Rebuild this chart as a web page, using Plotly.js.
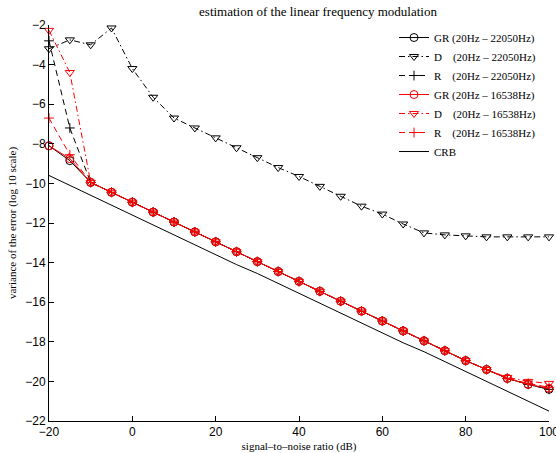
<!DOCTYPE html>
<html>
<head>
<meta charset="utf-8">
<script src="https://cdn.plot.ly/plotly-3.0.1.min.js"></script>
<style>html,body{margin:0;padding:0;background:#fff}#chart{width:556px;height:453px}</style>
</head>
<body>
<div id="chart"></div>
<script>
// signal-to-noise ratio (dB)
const snr = [-20,-15,-10,-5,0,5,10,15,20,25,30,35,40,45,50,55,60,65,70,75,80,85,90,95,100];

// 20Hz - 22050Hz
const grWide = [-8.1,-8.85,-9.95,-10.45,-10.95,-11.45,-11.95,-12.45,-12.95,-13.45,-13.95,-14.45,-14.95,-15.45,-15.95,-16.45,-16.95,-17.45,-17.95,-18.45,-18.95,-19.4,-19.85,-20.15,-20.4];
const dWide = [-3.2,-2.75,-3.0,-2.15,-4.2,-5.65,-6.7,-7.2,-7.7,-8.2,-8.7,-9.2,-9.65,-10.15,-10.65,-11.15,-11.55,-12.05,-12.5,-12.6,-12.65,-12.7,-12.7,-12.7,-12.7];
const rWide = [-2.8,-7.2,-9.95,-10.45,-10.95,-11.45,-11.95,-12.45,-12.95,-13.45,-13.95,-14.45,-14.95,-15.45,-15.95,-16.45,-16.95,-17.45,-17.95,-18.45,-18.95,-19.4,-19.85,-20.15,-20.4];

// 20Hz - 16538Hz
const grNarrow = [-8.1,-8.75,-9.95,-10.45,-10.95,-11.45,-11.95,-12.45,-12.95,-13.45,-13.95,-14.45,-14.95,-15.45,-15.95,-16.45,-16.95,-17.45,-17.95,-18.45,-18.95,-19.4,-19.85,-20.15,-20.35];
const dNarrow = [-2.27,-4.4,-9.95,-10.45,-10.95,-11.45,-11.95,-12.45,-12.95,-13.45,-13.95,-14.45,-14.95,-15.45,-15.95,-16.45,-16.95,-17.45,-17.95,-18.45,-18.95,-19.4,-19.8,-20.0,-20.1];
const rNarrow = [-6.7,-8.55,-9.95,-10.45,-10.95,-11.45,-11.95,-12.45,-12.95,-13.45,-13.95,-14.45,-14.95,-15.45,-15.95,-16.45,-16.95,-17.45,-17.95,-18.45,-18.95,-19.4,-19.85,-20.1,-20.3];

// Cramer-Rao bound
const crb = [-9.6,-10.1,-10.6,-11.1,-11.6,-12.1,-12.6,-13.1,-13.6,-14.1,-14.55,-15.05,-15.55,-16.05,-16.55,-17.05,-17.55,-18.05,-18.5,-19.0,-19.5,-20.0,-20.5,-21.0,-21.5];

const names = [
  'GR (20Hz \u2013 22050Hz)',
  'D \u00a0\u00a0\u00a0(20Hz \u2013 22050Hz)',
  'R \u00a0\u00a0\u00a0(20Hz \u2013 22050Hz)',
  'GR (20Hz \u2013 16538Hz)',
  'D \u00a0\u00a0\u00a0(20Hz \u2013 16538Hz)',
  'R \u00a0\u00a0\u00a0(20Hz \u2013 16538Hz)',
  'CRB'
];

const BLACK = '#000000', RED = '#ff0000';
const DASHDOT = '6px,3px,1.5px,3px', DASH = '6px,4px';

function tr(y, name, color, dash, symbol) {
  const t = {
    x: snr, y: y, name: name, type: 'scatter', cliponaxis: false,
    mode: symbol ? 'lines+markers' : 'lines',
    line: {color: color, width: 1, dash: dash}
  };
  if (symbol) {
    t.marker = {symbol: symbol, size: symbol === 'cross-thin-open' ? 7 : 8, color: color,
                line: {color: color, width: 1}};
  }
  return t;
}

const data = [
  tr(grWide, names[0], BLACK, 'solid', 'circle-open'),
  tr(dWide, names[1], BLACK, DASHDOT, 'triangle-down-open'),
  tr(rWide, names[2], BLACK, DASH, 'cross-thin-open'),
  tr(grNarrow, names[3], RED, 'solid', 'circle-open'),
  tr(dNarrow, names[4], RED, DASHDOT, 'triangle-down-open'),
  tr(rNarrow, names[5], RED, DASH, 'cross-thin-open'),
  tr(crb, names[6], BLACK, 'solid', null)
];

const tickFont = {family: 'Liberation Sans, Arial, sans-serif', size: 12, color: '#000'};
const serif = 'Liberation Serif, Times New Roman, serif';

const layout = {
  width: 556, height: 453,
  margin: {l: 49, r: 7, t: 25, b: 32, pad: 0},
  paper_bgcolor: '#fff', plot_bgcolor: '#fff',
  showlegend: true,
  title: {text: 'estimation of the linear frequency modulation', font: {family: serif, size: 13, color: '#000'},
          x: 0.538, xanchor: 'center', y: 0.975, yanchor: 'middle', xref: 'paper'},
  xaxis: {
    range: [-20, 100], tickvals: [-20, 0, 20, 40, 60, 80, 100],
    ticks: 'inside', ticklen: 5, tickcolor: '#000', tickwidth: 1,
    showline: true, linecolor: '#000', linewidth: 1, mirror: false,
    showgrid: false, zeroline: false, tickfont: tickFont, ticklabeloverflow: 'allow',
    title: {text: 'signal\u2013to\u2013noise ratio (dB)', font: {family: serif, size: 11, color: '#000'}, standoff: 4}
  },
  yaxis: {
    range: [-22, -2], tickvals: [-22,-20,-18,-16,-14,-12,-10,-8,-6,-4,-2],
    ticks: 'inside', ticklen: 5, tickcolor: '#000', tickwidth: 1,
    showline: true, linecolor: '#000', linewidth: 1, mirror: false,
    showgrid: false, zeroline: false, tickfont: tickFont, ticklabeloverflow: 'allow',
    title: {text: 'variance of the error (log 10 scale)', font: {family: serif, size: 11, color: '#000'}, standoff: 6}
  },
  legend: {
    x: 0.69, y: 1.005, xanchor: 'left', yanchor: 'top',
    bgcolor: 'rgba(255,255,255,0)', borderwidth: 0,
    font: {family: serif, size: 11, color: '#000'},
    itemwidth: 30, tracegroupgap: 0
  }
};

Plotly.newPlot('chart', data, layout, {staticPlot: true, displayModeBar: false});
</script>
</body>
</html>
